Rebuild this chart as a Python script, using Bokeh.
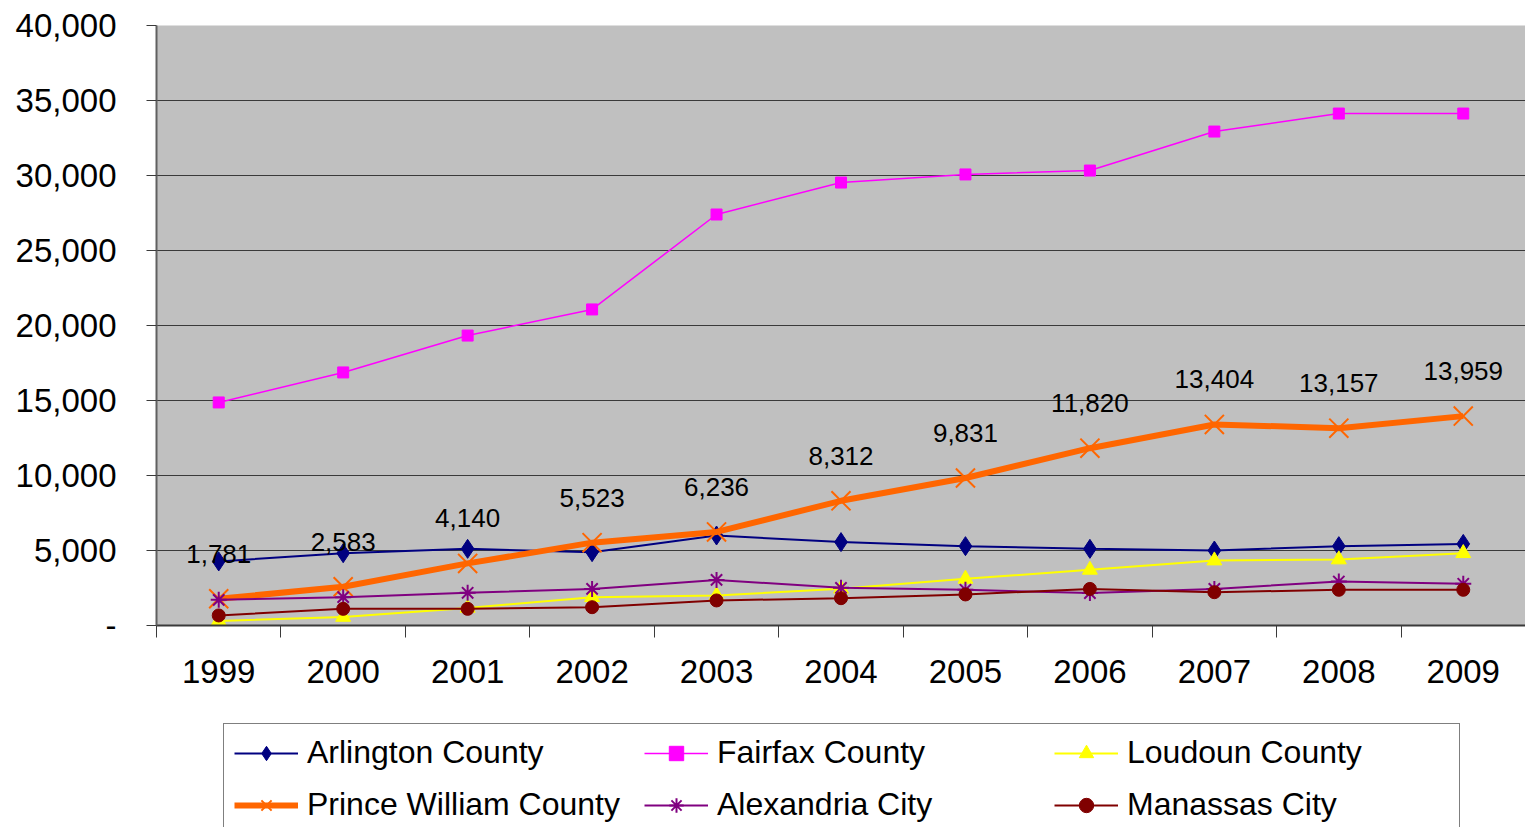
from bokeh.plotting import figure
from bokeh.layouts import column
from bokeh.models import Range1d, FixedTicker, Legend, LegendItem, ColumnDataSource
from bokeh.core.properties import value
from bokeh.embed import file_html
from bokeh.resources import INLINE

years = [1999, 2000, 2001, 2002, 2003, 2004, 2005, 2006, 2007, 2008, 2009]
arlington = [4270, 4820, 5110, 4890, 6000, 5560, 5290, 5110, 5000, 5290, 5440]
fairfax = [14870, 16870, 19330, 21070, 27400, 29530, 30070, 30330, 32930, 34130, 34130]
loudoun = [300, 570, 1170, 1890, 2000, 2450, 3110, 3710, 4330, 4400, 4820]
prince_william = [1781, 2583, 4140, 5523, 6236, 8312, 9831, 11820, 13404, 13157, 13959]
alexandria = [1710, 1890, 2180, 2440, 3040, 2510, 2380, 2160, 2440, 2930, 2780]
manassas = [670, 1110, 1110, 1220, 1670, 1820, 2070, 2440, 2220, 2380, 2380]

y_ticks = [0, 5000, 10000, 15000, 20000, 25000, 30000, 35000, 40000]
y_tick_labels = ["-", "5,000", "10,000", "15,000", "20,000", "25,000", "30,000", "35,000", "40,000"]

FONT = "Liberation Sans"
W = 1525
TOP_H = 700
LEG_H = 127

p = figure(width=W, height=TOP_H, output_backend="svg", toolbar_location=None,
           x_range=Range1d(1998.5, 2009.5), y_range=Range1d(0, 40000),
           min_border_left=156, min_border_top=25, min_border_bottom=TOP_H - 625,
           min_border_right=0)
p.background_fill_color = "#C0C0C0"
p.border_fill_color = "white"
p.outline_line_color = None

p.xgrid.grid_line_color = None
p.ygrid.grid_line_color = "#3a3a3a"
p.ygrid.grid_line_width = 1
p.ygrid.ticker = FixedTicker(ticks=y_ticks)

p.yaxis.ticker = FixedTicker(ticks=y_ticks)
p.yaxis.major_label_overrides = {t: l for t, l in zip(y_ticks, y_tick_labels)}
p.yaxis.major_label_text_font = FONT
p.yaxis.major_label_text_font_size = "33px"
p.yaxis.major_label_text_color = "black"
p.yaxis.axis_line_color = "#606060"
p.yaxis.axis_line_width = 2
p.yaxis.major_tick_line_color = "#3a3a3a"
p.yaxis.major_tick_out = 10
p.yaxis.major_tick_in = 0
p.yaxis.minor_tick_line_color = None
p.yaxis.major_label_standoff = 30

boundaries = [y - 0.5 for y in years] + [years[-1] + 0.5]
p.xaxis.ticker = FixedTicker(ticks=years, minor_ticks=boundaries)
p.xaxis.major_label_overrides = {y: str(y) for y in years}
p.xaxis.major_label_text_font = FONT
p.xaxis.major_label_text_font_size = "33px"
p.xaxis.major_label_text_color = "black"
p.xaxis.axis_line_color = "#3a3a3a"
p.xaxis.axis_line_width = 2
p.xaxis.major_tick_line_color = None
p.xaxis.major_tick_out = 0
p.xaxis.major_tick_in = 0
p.xaxis.minor_tick_line_color = "#3a3a3a"
p.xaxis.minor_tick_line_width = 1
p.xaxis.minor_tick_out = 12
p.xaxis.minor_tick_in = 0
p.xaxis.major_label_standoff = 22

series = [
    ("Arlington County", arlington, "#000080", 2, "diamond", 19, "#000080", 1),
    ("Fairfax County", fairfax, "#FF00FF", 1.5, "square", 11, "#FF00FF", 1),
    ("Loudoun County", loudoun, "#FFFF00", 2, "triangle", 15, "#FFFF00", 1),
    ("Prince William County", prince_william, "#FF6600", 6, "x", 27, None, 2),
    ("Alexandria City", alexandria, "#800080", 2, "asterisk", 16, None, 2),
    ("Manassas City", manassas, "#800000", 2, "circle", 13, "#800000", 1),
]

# legend-only figure below the chart
lf = figure(width=W, height=LEG_H, output_backend="svg", toolbar_location=None,
            x_range=Range1d(0, 1), y_range=Range1d(0, 1),
            x_axis_type=None, y_axis_type=None, min_border=0)
lf.outline_line_color = None
lf.grid.visible = False
lf.background_fill_color = "white"
lf.border_fill_color = "white"

items = []
for name, vals, color, lw, marker, size, fill, mlw in series:
    src = ColumnDataSource(dict(x=years, y=vals))
    p.line("x", "y", source=src, line_color=color, line_width=lw)
    p.scatter("x", "y", source=src, marker=marker, size=size,
              line_color=color, line_width=mlw,
              fill_color=fill if fill else None)
    dummy = ColumnDataSource(dict(x=[-5, -4], y=[-5, -4]))
    ln = lf.line("x", "y", source=dummy, line_color=color, line_width=lw)
    sc = lf.scatter("x", "y", source=dummy, marker=marker, size=size,
                    line_color=color, line_width=mlw,
                    fill_color=fill if fill else None)
    items.append(LegendItem(label=name, renderers=[ln, sc]))

lab_src = ColumnDataSource(dict(x=years, y=prince_william,
                                t=[f"{v:,}" for v in prince_william]))
p.text("x", "y", text="t", source=lab_src, text_font=value(FONT),
       text_font_size="26px", text_color="black", text_align="center",
       text_baseline="middle", y_offset=-45)

legend = Legend(items=items, orientation="horizontal", ncols=3,
                location=(67, LEG_H - 27 - 107),
                label_text_font=FONT, label_text_font_size="32px", label_text_color="black",
                glyph_width=64, glyph_height=36, label_height=36, label_width=322,
                label_standoff=9, spacing=15, padding=10, margin=0,
                border_line_color="black", border_line_width=1.5,
                background_fill_color="white", background_fill_alpha=1)
lf.add_layout(legend, "center")

layout = column(p, lf, spacing=0)
open("out.html", "w").write(file_html(layout, INLINE))
